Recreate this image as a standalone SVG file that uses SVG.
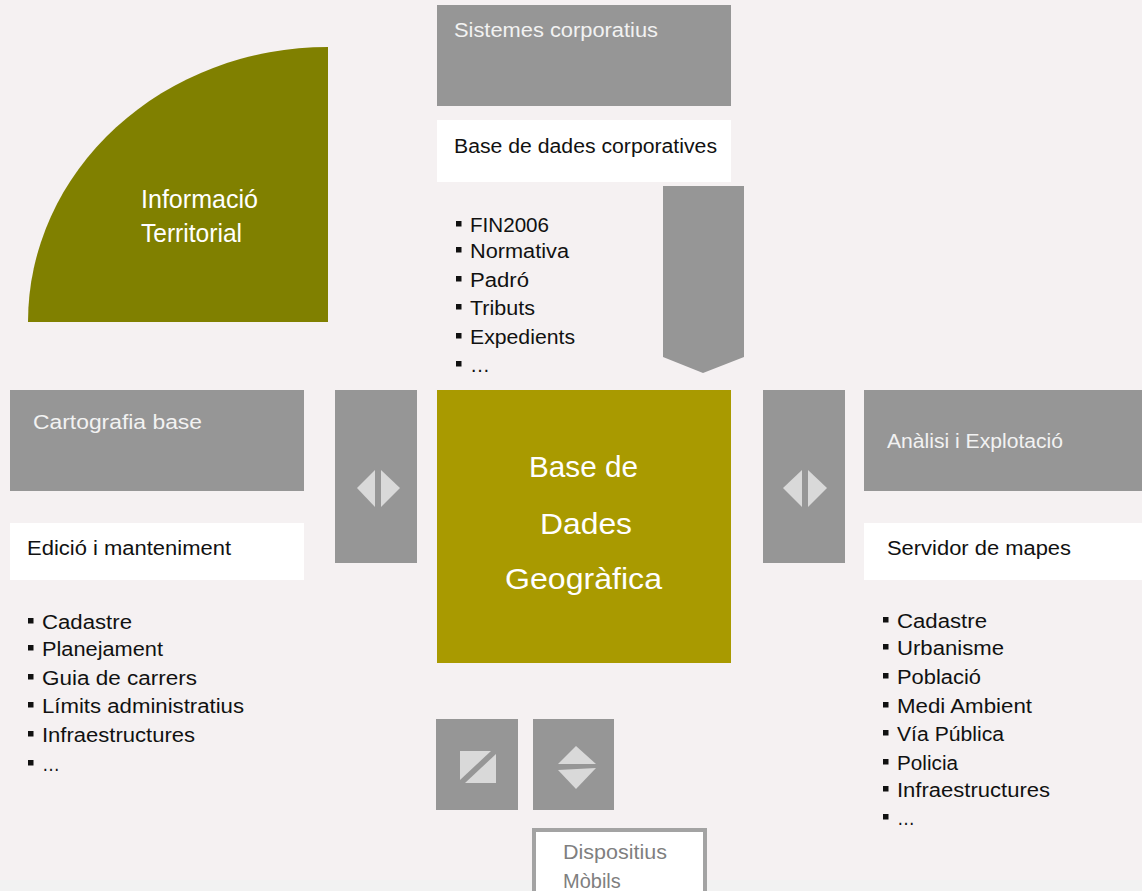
<svg xmlns="http://www.w3.org/2000/svg" width="1142" height="891" viewBox="0 0 1142 891">
<style>
.t{font-family:"Liberation Sans",Arial,sans-serif;}
.hdr{fill:#969696;}
.hdrt{fill:#f2f2f2;font-size:20px;}
.wbox{fill:#ffffff;}
.wt{fill:#111111;font-size:20px;}
.li{fill:#111111;font-size:20px;}
.bul{fill:#111111;}
.conn{fill:#969696;}
.ico{fill:#d9d9d9;}
.big{fill:#ffffff;}
</style>
<rect x="0" y="0" width="1142" height="891" fill="#f5f1f2"/>
<rect x="0" y="880" width="1142" height="11" fill="#f2f2f2"/>

<g id="informacio-territorial">
<path d="M28 322 A300 275 0 0 1 328 47 L328 322 Z" fill="#808000"/>
<text class="t big" x="141" y="208" font-size="25" textLength="117" lengthAdjust="spacingAndGlyphs">Informació</text>
<text class="t big" x="141" y="242" font-size="25" textLength="101" lengthAdjust="spacingAndGlyphs">Territorial</text>
</g>

<g id="sistemes-corporatius">
<rect class="hdr" x="437" y="5" width="294" height="101"/>
<text class="t hdrt" x="454" y="37" textLength="204" lengthAdjust="spacingAndGlyphs">Sistemes corporatius</text>
</g>

<g id="base-dades-corporatives">
<rect class="wbox" x="437" y="120" width="294" height="62"/>
<text class="t wt" x="454" y="153" textLength="263" lengthAdjust="spacingAndGlyphs">Base de dades corporatives</text>
</g>

<g id="llista-corporatives">
<rect class="bul" x="456" y="221" width="5.5" height="5.5"/><text class="t li" x="470" y="232" textLength="79" lengthAdjust="spacingAndGlyphs">FIN2006</text>
<rect class="bul" x="456" y="247" width="5.5" height="5.5"/><text class="t li" x="470" y="258" textLength="99" lengthAdjust="spacingAndGlyphs">Normativa</text>
<rect class="bul" x="456" y="276" width="5.5" height="5.5"/><text class="t li" x="470" y="287" textLength="59" lengthAdjust="spacingAndGlyphs">Padró</text>
<rect class="bul" x="456" y="304" width="5.5" height="5.5"/><text class="t li" x="470" y="315" textLength="65" lengthAdjust="spacingAndGlyphs">Tributs</text>
<rect class="bul" x="456" y="333" width="5.5" height="5.5"/><text class="t li" x="470" y="344" textLength="105" lengthAdjust="spacingAndGlyphs">Expedients</text>
<rect class="bul" x="456" y="361" width="5.5" height="5.5"/><text class="t li" x="470" y="372" textLength="20" lengthAdjust="spacingAndGlyphs">…</text>
</g>

<g id="cartografia-base">
<rect class="hdr" x="10" y="390" width="294" height="101"/>
<text class="t hdrt" x="33" y="429" textLength="169" lengthAdjust="spacingAndGlyphs">Cartografia base</text>
</g>

<g id="edicio-manteniment">
<rect class="wbox" x="10" y="523" width="294" height="57"/>
<text class="t wt" x="27" y="555" textLength="204" lengthAdjust="spacingAndGlyphs">Edició i  manteniment</text>
</g>

<g id="llista-cartografia">
<rect class="bul" x="28" y="618" width="5.5" height="5.5"/><text class="t li" x="42" y="629" textLength="90" lengthAdjust="spacingAndGlyphs">Cadastre</text>
<rect class="bul" x="28" y="645" width="5.5" height="5.5"/><text class="t li" x="42" y="656" textLength="121" lengthAdjust="spacingAndGlyphs">Planejament</text>
<rect class="bul" x="28" y="674" width="5.5" height="5.5"/><text class="t li" x="42" y="685" textLength="155" lengthAdjust="spacingAndGlyphs">Guia de carrers</text>
<rect class="bul" x="28" y="702" width="5.5" height="5.5"/><text class="t li" x="42" y="713" textLength="202" lengthAdjust="spacingAndGlyphs">Límits administratius</text>
<rect class="bul" x="28" y="731" width="5.5" height="5.5"/><text class="t li" x="42" y="742" textLength="153" lengthAdjust="spacingAndGlyphs">Infraestructures</text>
<rect class="bul" x="28" y="760" width="5.5" height="5.5"/><text class="t li" x="42" y="771" textLength="18" lengthAdjust="spacingAndGlyphs">…</text>
</g>

<g id="base-dades-geografica">
<rect x="437" y="390" width="294" height="273" fill="#a99a00"/>
<text class="t big" x="529" y="477" font-size="29" textLength="109" lengthAdjust="spacingAndGlyphs">Base de</text>
<text class="t big" x="540" y="534" font-size="29" textLength="92" lengthAdjust="spacingAndGlyphs">Dades</text>
<text class="t big" x="505" y="589" font-size="29" textLength="157" lengthAdjust="spacingAndGlyphs">Geogràfica</text>
</g>

<g id="analisi-explotacio">
<rect class="hdr" x="864" y="390" width="278" height="101"/>
<text class="t hdrt" x="887" y="448" textLength="176" lengthAdjust="spacingAndGlyphs">Anàlisi i Explotació</text>
</g>

<g id="servidor-mapes">
<rect class="wbox" x="864" y="523" width="278" height="57"/>
<text class="t wt" x="887" y="555" textLength="184" lengthAdjust="spacingAndGlyphs">Servidor de mapes</text>
</g>

<g id="llista-servidor">
<rect class="bul" x="883" y="617" width="5.5" height="5.5"/><text class="t li" x="897" y="628" textLength="90" lengthAdjust="spacingAndGlyphs">Cadastre</text>
<rect class="bul" x="883" y="644" width="5.5" height="5.5"/><text class="t li" x="897" y="655" textLength="107" lengthAdjust="spacingAndGlyphs">Urbanisme</text>
<rect class="bul" x="883" y="673" width="5.5" height="5.5"/><text class="t li" x="897" y="684" textLength="84" lengthAdjust="spacingAndGlyphs">Població</text>
<rect class="bul" x="883" y="702" width="5.5" height="5.5"/><text class="t li" x="897" y="713" textLength="135" lengthAdjust="spacingAndGlyphs">Medi Ambient</text>
<rect class="bul" x="883" y="730" width="5.5" height="5.5"/><text class="t li" x="897" y="741" textLength="107" lengthAdjust="spacingAndGlyphs">Vía Pública</text>
<rect class="bul" x="883" y="759" width="5.5" height="5.5"/><text class="t li" x="897" y="770" textLength="61" lengthAdjust="spacingAndGlyphs">Policia</text>
<rect class="bul" x="883" y="786" width="5.5" height="5.5"/><text class="t li" x="897" y="797" textLength="153" lengthAdjust="spacingAndGlyphs">Infraestructures</text>
<rect class="bul" x="883" y="814" width="5.5" height="5.5"/><text class="t li" x="897" y="825" textLength="18" lengthAdjust="spacingAndGlyphs">…</text>
</g>

<g id="connectors">
<polygon class="conn" points="663,186 744,186 744,357 703,373 663,357"/>
<rect class="conn" x="335" y="390" width="82" height="173"/>
<polygon class="ico" points="357,488 375,470 375,507"/>
<polygon class="ico" points="381,470 400,488 381,507"/>
<rect class="conn" x="763" y="390" width="82" height="173"/>
<polygon class="ico" points="783,488 802,470 802,507"/>
<polygon class="ico" points="808,470 827,488 808,507"/>
<rect class="conn" x="436" y="719" width="82" height="91"/>
<polygon class="ico" points="460,751 491,751 460,780"/>
<polygon class="ico" points="496,754 496,783 465,783"/>
<rect class="conn" x="533" y="719" width="81" height="91"/>
<polygon class="ico" points="576,746 596,764 558,764"/>
<polygon class="ico" points="558,770 596,768 576,789"/>
</g>

<g id="dispositius-mobils">
<rect x="534" y="830" width="171" height="70" fill="#ffffff" stroke="#a3a3a3" stroke-width="4"/>
<text class="t" x="563" y="859" font-size="20" fill="#7f7f7f" textLength="104" lengthAdjust="spacingAndGlyphs">Dispositius</text>
<text class="t" x="563" y="888" font-size="20" fill="#7f7f7f">Mòbils</text>
</g>
</svg>
